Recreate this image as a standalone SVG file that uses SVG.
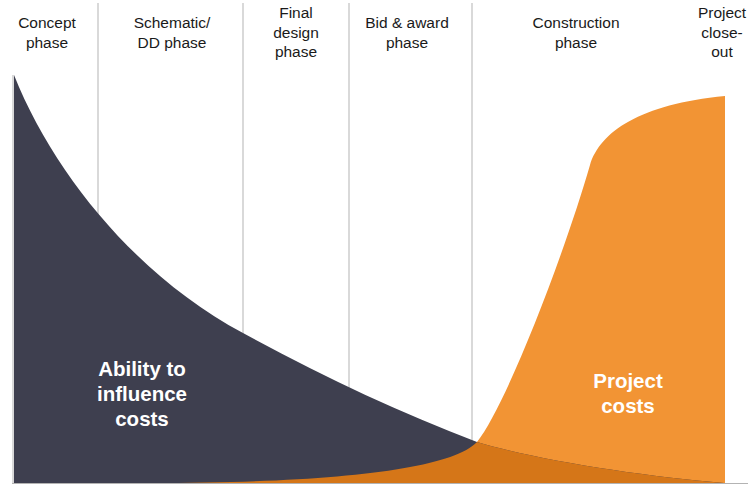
<svg xmlns="http://www.w3.org/2000/svg" width="748" height="484" viewBox="0 0 748 484">
<defs>
<style>
.lbl{font-family:"Liberation Sans",Arial,sans-serif;font-size:15.5px;fill:#1a1a1a;text-anchor:middle}
.big{font-family:"Liberation Sans",Arial,sans-serif;font-size:20.5px;font-weight:bold;fill:#ffffff;text-anchor:middle}
.grid{stroke:#b3b3b3;stroke-width:1;fill:none}
</style>
<path id="darkShape" d="M14 75 C54 175 138 277 243 333 C321 376 399 412 477 442 C537 460 640 476 724 483 L14 483 Z"/>
<path id="orangeShape" d="M150 483 C330 483 450 470 477 442 C507 404 565 252 590 165 C600 132 640 104 725 96 L725 483 Z"/>
<clipPath id="darkClip"><use href="#darkShape"/></clipPath>
</defs>
<rect width="748" height="484" fill="#ffffff"/>
<g id="gridlines">
<line class="grid" x1="98" y1="3" x2="98" y2="483"/>
<line class="grid" x1="243" y1="3" x2="243" y2="483"/>
<line class="grid" x1="349" y1="3" x2="349" y2="483"/>
<line class="grid" x1="472" y1="3" x2="472" y2="483"/>
<line class="grid" x1="13" y1="75" x2="13" y2="483"/>
<line class="grid" x1="12" y1="483.5" x2="748" y2="483.5"/>
</g>
<g id="orange-area">
<use href="#orangeShape" fill="#f29434"/>
</g>
<g id="dark-area">
<use href="#darkShape" fill="#3e3f4f"/>
</g>
<g id="overlap-area">
<use href="#orangeShape" fill="#d57618" clip-path="url(#darkClip)"/>
</g>
<g id="phase-labels">
<text class="lbl" x="47" y="28">Concept</text>
<text class="lbl" x="47" y="47.5">phase</text>
<text class="lbl" x="172" y="28">Schematic/</text>
<text class="lbl" x="172" y="47.5">DD phase</text>
<text class="lbl" x="296" y="18">Final</text>
<text class="lbl" x="296" y="37.5">design</text>
<text class="lbl" x="296" y="57">phase</text>
<text class="lbl" x="407" y="28">Bid &amp; award</text>
<text class="lbl" x="407" y="47.5">phase</text>
<text class="lbl" x="576" y="28">Construction</text>
<text class="lbl" x="576" y="47.5">phase</text>
<text class="lbl" x="722" y="18">Project</text>
<text class="lbl" x="722" y="37.5">close-</text>
<text class="lbl" x="722" y="57">out</text>
</g>
<g id="area-labels">
<text class="big" x="142" y="376">Ability to</text>
<text class="big" x="142" y="401">influence</text>
<text class="big" x="142" y="426">costs</text>
<text class="big" x="628" y="388">Project</text>
<text class="big" x="628" y="413">costs</text>
</g>
</svg>
